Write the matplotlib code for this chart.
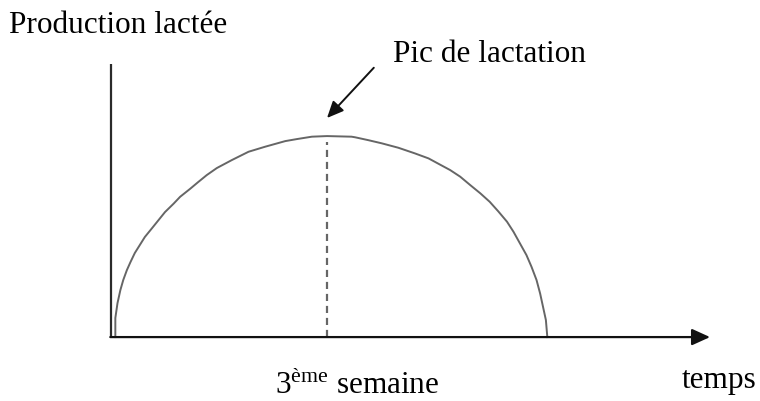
import numpy as np
import matplotlib
matplotlib.use('Agg')
import matplotlib.pyplot as plt

plt.rcParams['font.family'] = ['Liberation Serif', 'DejaVu Serif']
plt.rcParams['mathtext.fontset'] = 'custom'
plt.rcParams['mathtext.rm'] = 'Liberation Serif'

# lactation curve: time in weeks, production relative to the peak
weeks = [0.06, 0.06, 0.09, 0.13, 0.17, 0.22, 0.27, 0.33, 0.40, 0.47, 0.57, 0.66,
         0.75, 0.87, 0.96, 1.10, 1.21, 1.33, 1.47, 1.68, 1.91, 2.14, 2.42, 2.58,
         2.79, 3.00, 3.34, 3.39, 3.57, 3.76, 3.99, 4.22, 4.41, 4.57, 4.71, 4.85,
         4.99, 5.13, 5.26, 5.38, 5.50, 5.59, 5.68, 5.77, 5.84, 5.91, 5.96, 6.00,
         6.04, 6.06]
production = [0.000, 0.095, 0.169, 0.234, 0.284, 0.333, 0.373, 0.418, 0.458, 0.498,
              0.542, 0.582, 0.622, 0.664, 0.698, 0.738, 0.771, 0.806, 0.841, 0.881,
              0.922, 0.947, 0.975, 0.985, 0.997, 1.000, 0.997, 0.994, 0.980, 0.964,
              0.942, 0.914, 0.889, 0.858, 0.831, 0.798, 0.756, 0.715, 0.673, 0.625,
              0.574, 0.524, 0.466, 0.408, 0.350, 0.284, 0.217, 0.151, 0.085, 0.000]
peak_week = 3.0
peak_value = 1.0
y_axis_top = 1.36
x_axis_end = 8.32

fig = plt.figure(figsize=(7.6, 4.01), dpi=100)
ax = fig.add_axes([0, 0, 1, 1])
ax.set_xlim(-1.542, 9.014)
ax.set_ylim(-0.318, 1.677)
ax.axis('off')

axis_col = '#2b2b2b'
ax.plot([0, 0], [0, y_axis_top], color=axis_col, lw=1.6, solid_capstyle='butt')
ax.annotate('', xy=(x_axis_end, 0), xytext=(-0.01, 0),
            arrowprops=dict(arrowstyle='-|>,head_length=1.1,head_width=0.5',
                            color='#111111', lw=1.6, shrinkA=0, shrinkB=0,
                            mutation_scale=10))

ax.plot(weeks, production, color='#666666', lw=1.4, solid_joinstyle='round')
ax.plot([peak_week, peak_week], [0, peak_value - 0.03], color='#666666', lw=1.6,
        dashes=(3.2, 2.2))

ax.annotate('', xy=(peak_week, 1.09), xytext=(3.65, 1.34),
            arrowprops=dict(arrowstyle='-|>,head_length=1.0,head_width=0.45',
                            color='#111111', lw=1.4, shrinkA=0, shrinkB=0,
                            mutation_scale=10))

fs = 22.5
fig.text(9 / 760, 1 - 33 / 401, 'Production lactée', fontsize=fs, ha='left', va='baseline')
fig.text(393 / 760, 1 - 62 / 401, 'Pic de lactation', fontsize=fs, ha='left', va='baseline')
fig.text(275 / 760, 1 - 394 / 401, '3$^{\\mathrm{ème}}$ semaine', fontsize=fs,
         ha='left', va='baseline')
fig.text(682 / 760, 1 - 388 / 401, 'temps', fontsize=fs, ha='left', va='baseline')

fig.savefig('out.png', dpi=100)
